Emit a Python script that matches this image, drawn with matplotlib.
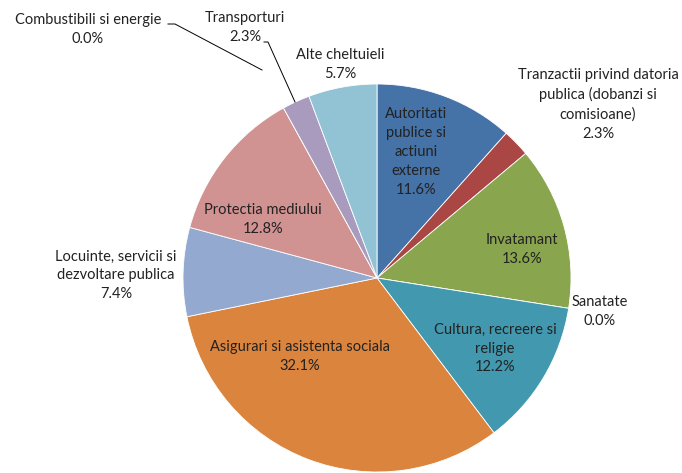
import matplotlib.pyplot as plt

W, H = 682, 473

categories = [
    "Autoritati\npublice si\nactiuni\nexterne",
    "Tranzactii privind datoria\npublica (dobanzi si\ncomisioane)",
    "Invatamant",
    "Sanatate",
    "Cultura, recreere si\nreligie",
    "Asigurari si asistenta sociala",
    "Locuinte, servicii si\ndezvoltare publica",
    "Protectia mediului",
    "Combustibili si energie",
    "Transporturi",
    "Alte cheltuieli",
]
shares = [11.6, 2.3, 13.6, 0.0, 12.2, 32.1, 7.4, 12.8, 0.0, 2.3, 5.7]
colors = ["#4572A7", "#AA4643", "#89A54E", "#71588F", "#4198AF", "#DB843D",
          "#93A9CF", "#D19392", "#B9CD96", "#A99BBD", "#92C3D4"]

# label centres in pixels (from top-left), y of the first line
label_pos = [(416, 113), (598, 75), (522, 240), (600, 302), (495, 329),
             (300, 347), (116, 256), (263, 210), (88, 20), (245, 18), (340, 55)]

plt.rcParams['font.family'] = ['Lato', 'DejaVu Sans']

fig = plt.figure(figsize=(W / 100, H / 100), dpi=100)
ax = fig.add_axes([0, 0, 1, 1])

ax.pie(shares, colors=colors, startangle=90, counterclock=False,
       center=(377, H - 278), radius=194,
       wedgeprops=dict(edgecolor="white", linewidth=0.6))
ax.set_xlim(0, W)
ax.set_ylim(0, H)
ax.set_aspect("equal")
ax.axis("off")

line_h = 19.5
for name, val, (px, py) in zip(categories, shares, label_pos):
    txt = f"{name}\n{val:.1f}%"
    n = txt.count("\n")
    ycen = py + n * line_h / 2
    ax.text(px, H - ycen, txt, ha="center", va="center", fontsize=10.5,
            linespacing=1.45, color="#222222")

# leader lines for the small slices
ax.plot([168, 175, 262], [H - 24, H - 24, H - 70], color="black", lw=0.7)
ax.plot([264, 268, 295], [H - 42, H - 42, H - 102], color="black", lw=0.7)

fig.savefig("out.png", dpi=100)
